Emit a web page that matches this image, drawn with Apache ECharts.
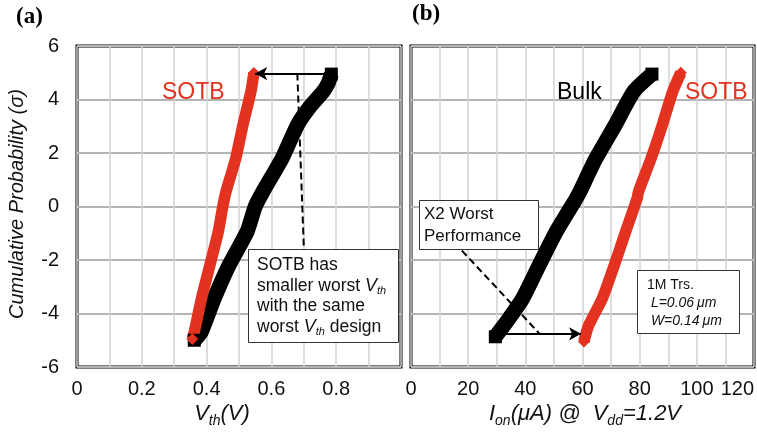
<!DOCTYPE html>
<html><head><meta charset="utf-8">
<script src="https://cdn.jsdelivr.net/npm/echarts@6/dist/echarts.min.js"></script>
<style>html,body{margin:0;padding:0;background:#fff}#c{width:757px;height:435px}</style>
</head><body><div id="c"></div>
<script>
// Panel (a): Vth (V) vs cumulative probability (sigma)
const aBulkV = [0.362, 0.383, 0.423, 0.469, 0.525, 0.55, 0.574, 0.633, 0.68, 0.715, 0.76, 0.775, 0.785];
const aBulkS = [-5.0, -4.7, -3.45, -2.2, -0.94, 0, 0.56, 1.8, 3.04, 3.67, 4.3, 4.6, 4.95];
const aSotbV = [0.356, 0.362, 0.384, 0.41, 0.436, 0.45, 0.46, 0.49, 0.512, 0.537, 0.546];
const aSotbS = [-4.95, -4.69, -3.45, -2.2, -0.94, 0, 0.56, 1.8, 3.04, 4.31, 4.99];
// Panel (b): Ion (uA) @ Vdd=1.2V vs cumulative probability (sigma)
const bBulkI = [29.5, 34.2, 39.0, 44.8, 50.8, 57.8, 59.1, 64.7, 71.4, 78.0, 84.3];
const bBulkS = [-4.87, -4.2, -3.45, -2.2, -0.94, 0.3, 0.56, 1.8, 3.04, 4.31, 4.95];
const bSotbI = [60.5, 62.1, 66.9, 71.1, 75.1, 79.1, 79.6, 84.0, 87.9, 91.6, 94.4];
const bSotbS = [-5.05, -4.46, -3.45, -2.2, -0.94, 0.3, 0.56, 1.8, 3.04, 4.31, 5.0];
const yTicks = [-6, -4, -2, 0, 2, 4, 6];
const aXTicks = [0, 0.2, 0.4, 0.6, 0.8];
const bXTicks = [0, 20, 40, 60, 80, 100, 120];
// annotations (data coordinates)
const aArrow = [[0.785, 4.97], [0.55, 4.97]];
const aDash = [[0.68, 4.97], [0.70, -1.5]];
const bArrow = [[33, -4.76], [59.5, -4.76]];
const bDash = [[17.8, -1.65], [45, -4.76]];

const FONT = 'Liberation Sans, Arial, sans-serif';
const RED = '#e3321f';
const zip = (xs, ys) => xs.map((x, i) => [x, ys[i]]);

const chart = echarts.init(document.getElementById('c'));

function yAx(gi, show) {
  return {
    type: 'value', gridIndex: gi, min: yTicks[0], max: yTicks[yTicks.length - 1], interval: 2,
    axisLine: {show: false}, axisTick: {show: false},
    axisLabel: {show: show, fontSize: 20, color: '#111', fontFamily: FONT, margin: 18},
    splitLine: {show: true, lineStyle: {color: '#b4b4b4', width: 2}}
  };
}
function xAx(gi, ticks, fmt) {
  return {
    type: 'value', gridIndex: gi, min: ticks[0], max: gi === 0 ? 1 : ticks[ticks.length - 1],
    interval: ticks[1] - ticks[0],
    axisLine: {show: false}, axisTick: {show: false},
    axisLabel: {fontSize: 20, color: '#111', fontFamily: FONT, margin: 12, formatter: fmt,
      alignMaxLabel: gi === 1 ? 'right' : 'center'},
    splitLine: {show: true, lineStyle: {color: '#d2d2d2', width: 1.5}},
    minorTick: {show: false, splitNumber: 2},
    minorSplitLine: {show: true, lineStyle: {color: '#d2d2d2', width: 1.5}}
  };
}
function band(xi, xs, ys, color, w, sym, ssize, extra) {
  const n = xs.length;
  return Object.assign({
    type: 'line', xAxisIndex: xi, yAxisIndex: xi, data: zip(xs, ys), smooth: 0.2,
    symbol: sym, symbolSize: (v, p) => (p.dataIndex === 0 || p.dataIndex === n - 1) ? ssize : 0,
    showAllSymbol: true,
    itemStyle: {color: color}, lineStyle: {color: color, width: w, join: 'round', cap: 'butt'},
    z: 3, animation: false, silent: true
  }, extra || {});
}
function mline(arr, style, syms) {
  return [{coord: arr[0], symbol: syms[0], lineStyle: style}, {coord: arr[1], symbol: syms[1]}];
}

const option = {
  animation: false,
  grid: [
    {left: 77, top: 46, width: 324, height: 321, show: true, borderColor: '#000', borderWidth: 3, backgroundColor: 'transparent'},
    {left: 411, top: 46, width: 343, height: 321, show: true, borderColor: '#000', borderWidth: 3, backgroundColor: 'transparent'}
  ],
  xAxis: [
    xAx(0, aXTicks, v => (Math.abs(v - 1) < 1e-6 ? '' : String(Math.round(v * 10) / 10))),
    xAx(1, bXTicks, v => String(Math.round(v)))
  ],
  yAxis: [yAx(0, true), yAx(1, false)],
  series: [
    band(0, aBulkV, aBulkS, '#000', 15, 'rect', 13, {
      markLine: {silent: true, symbolSize: [10, 12], label: {show: false}, animation: false,
        data: [mline(aArrow, {color: '#000', width: 2, type: 'solid'}, ['none', 'arrow']),
               mline(aDash, {color: '#000', width: 2, type: [7, 4]}, ['none', 'none'])]}
    }),
    band(0, aSotbV, aSotbS, RED, 11.5, 'diamond', 12),
    band(1, bBulkI, bBulkS, '#000', 15, 'rect', 13, {
      markLine: {silent: true, symbolSize: [10, 12], label: {show: false}, animation: false,
        data: [mline(bArrow, {color: '#000', width: 2, type: 'solid'}, ['none', 'arrow']),
               mline(bDash, {color: '#000', width: 2, type: [7, 4]}, ['none', 'none'])]}
    }),
    band(1, bSotbI, bSotbS, RED, 11.5, 'diamond', 12)
  ],
  graphic: [
    {type: 'text', left: 16, top: 6, style: {text: '(a)', font: 'bold 23px "Liberation Serif", "Times New Roman", serif', fill: '#000'}},
    {type: 'text', left: 412, top: 3, style: {text: '(b)', font: 'bold 23px "Liberation Serif", "Times New Roman", serif', fill: '#000'}},
    {type: 'text', x: 17, y: 204, rotation: Math.PI / 2,
      style: {text: 'Cumulative Probability (σ)', font: 'italic 20px ' + FONT, fill: '#111', align: 'center', verticalAlign: 'middle'}},
    {type: 'text', x: 222, y: 414, style: {
      text: '{v|V}{s|th}{v|(V)}', align: 'center', verticalAlign: 'middle',
      rich: {v: {font: 'italic 22px ' + FONT, fill: '#111', color: '#111'},
             s: {font: 'italic 14px ' + FONT, fill: '#111', color: '#111', padding: [14, 0, 0, 0]}}}},
    {type: 'text', x: 585, y: 414, style: {
      text: '{v|I}{s|on}{v|(μA) @  V}{s|dd}{v|=1.2V}', align: 'center', verticalAlign: 'middle',
      rich: {v: {font: 'italic 22px ' + FONT, fill: '#111', color: '#111'},
             s: {font: 'italic 14px ' + FONT, fill: '#111', color: '#111', padding: [14, 0, 0, 0]}}}},
    {type: 'text', x: 162, y: 93, z: 10, style: {text: 'SOTB', font: '23px ' + FONT, fill: RED, verticalAlign: 'middle'}},
    {type: 'text', x: 557, y: 93, z: 10, style: {text: 'Bulk', font: '23px ' + FONT, fill: '#000', verticalAlign: 'middle'}},
    {type: 'text', x: 685, y: 93, z: 10, style: {text: 'SOTB', font: '23px ' + FONT, fill: RED, verticalAlign: 'middle'}},
    // box (a)
    {type: 'rect', z: 10, shape: {x: 248.5, y: 249.5, width: 150, height: 93}, style: {fill: '#fff', stroke: '#333', lineWidth: 1}},
    {type: 'text', z: 11, x: 257, y: 255, style: {
      text: '{n|SOTB has}\n{n|smaller worst }{v|V}{s|th}\n{n|with the same}\n{n|worst }{v|V}{s|th}{n| design}',
      rich: {n: {font: '17.5px ' + FONT, fill: '#111', color: '#111', lineHeight: 20.5},
             v: {font: 'italic 18px ' + FONT, fill: '#111', color: '#111', lineHeight: 20.5},
             s: {font: 'italic 11px ' + FONT, fill: '#111', color: '#111', lineHeight: 20.5, padding: [10, 0, 0, 0]}}}},
    // box (b) X2
    {type: 'rect', z: 10, shape: {x: 419.5, y: 200.5, width: 119, height: 49}, style: {fill: '#fff', stroke: '#333', lineWidth: 1}},
    {type: 'text', z: 11, x: 424, y: 203, style: {
      text: 'X2 Worst\nPerformance', font: '17px ' + FONT, fill: '#111', lineHeight: 22}},
    // box (b) 1M Trs
    {type: 'rect', z: 10, shape: {x: 637.5, y: 270.5, width: 102, height: 63}, style: {fill: '#fff', stroke: '#333', lineWidth: 1}},
    {type: 'text', z: 11, x: 647, y: 276, style: {
      text: '{n|1M Trs.}\n{i| L=0.06}{m|μm}\n{i| W=0.14}{m|μm}',
      rich: {n: {font: '14px ' + FONT, fill: '#111', color: '#111', lineHeight: 18},
             i: {font: 'italic 14px ' + FONT, fill: '#111', color: '#111', lineHeight: 18},
             m: {font: 'italic 14px ' + FONT, fill: '#111', color: '#111', lineHeight: 18, padding: [0, 0, 0, 3]}}}}
  ]
};
chart.setOption(option);
</script></body></html>
